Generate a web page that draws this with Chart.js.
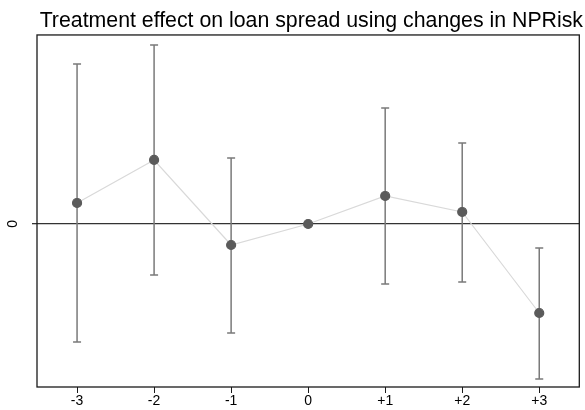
<!DOCTYPE html>
<html>
<head>
<meta charset="utf-8">
<script src="https://cdn.jsdelivr.net/npm/chart.js@4.4.1/dist/chart.umd.min.js"></script>
<style>
  html, body { margin: 0; padding: 0; background: #ffffff; }
  #wrap { width: 585px; height: 410px; }
</style>
</head>
<body>
<div id="wrap"><canvas id="effectChart" width="585" height="410"></canvas></div>
<script>
// event-time periods and their labels
const periods = [-3, -2, -1, 0, 1, 2, 3];
const periodLabels = ['-3', '-2', '-1', '0', '+1', '+2', '+3'];

// point estimates and confidence bounds
const estimates = [0.21, 0.64, -0.21, 0, 0.28, 0.12, -0.89];
const ciUpper = [1.60, 1.79, 0.66, 0, 1.16, 0.81, -0.24];
const ciLower = [-1.18, -0.51, -1.09, 0, -0.60, -0.58, -1.55];

// only the zero line is labelled on the y axis
const yTickValues = [0];
const yTickLabels = ['0'];

const titleText = 'Treatment effect on loan spread using changes in NPRisk';

const points = periods.map((p, i) => ({ x: p, y: estimates[i] }));

// error bars + frame + rotated y label
const extrasPlugin = {
  id: 'extras',
  beforeDatasetsDraw(chart) {
    const { ctx, scales } = chart;
    const xs = scales.x, ys = scales.y;
    ctx.save();
    ctx.strokeStyle = '#7a7a7a';
    ctx.lineWidth = 1.5;
    periods.forEach((p, i) => {
      if (ciUpper[i] === ciLower[i]) return;
      const px = xs.getPixelForValue(p);
      const top = ys.getPixelForValue(ciUpper[i]);
      const bot = ys.getPixelForValue(ciLower[i]);
      ctx.beginPath();
      ctx.moveTo(px, top);
      ctx.lineTo(px, bot);
      ctx.moveTo(px - 4, top);
      ctx.lineTo(px + 4, top);
      ctx.moveTo(px - 4, bot);
      ctx.lineTo(px + 4, bot);
      ctx.stroke();
    });
    ctx.restore();
  },
  afterDraw(chart) {
    const { ctx, chartArea, scales } = chart;
    ctx.save();
    ctx.strokeStyle = '#1a1a1a';
    ctx.lineWidth = 1.3;
    ctx.strokeRect(chartArea.left, chartArea.top,
      chartArea.right - chartArea.left, chartArea.bottom - chartArea.top);

    // y tick labels, rotated like the original
    ctx.fillStyle = '#000000';
    ctx.font = '14px "Liberation Sans", Arial, sans-serif';
    ctx.textAlign = 'center';
    ctx.textBaseline = 'middle';
    yTickValues.forEach((v, i) => {
      const py = scales.y.getPixelForValue(v);
      ctx.save();
      ctx.translate(chartArea.left - 24, py);
      ctx.rotate(-Math.PI / 2);
      ctx.fillText(yTickLabels[i], 0, 0);
      ctx.restore();
    });
    ctx.restore();
  }
};

new Chart(document.getElementById('effectChart'), {
  type: 'scatter',
  data: {
    datasets: [{
      data: points,
      showLine: true,
      borderColor: '#d9d9d9',
      borderWidth: 1.2,
      pointBackgroundColor: '#5b5b5b',
      pointBorderColor: '#5b5b5b',
      pointRadius: 4.5,
      pointHoverRadius: 4.5
    }]
  },
  options: {
    responsive: false,
    animation: false,
    layout: { padding: { left: 0, right: 2, top: 0, bottom: 0 } },
    plugins: {
      legend: { display: false },
      tooltip: { enabled: false },
      title: {
        display: true,
        text: titleText,
        align: 'end',
        color: '#000000',
        font: { family: '"Liberation Sans", Arial, sans-serif', size: 21.3, weight: 'normal', lineHeight: 1.2 },
        padding: { top: 8, bottom: 1.4 }
      }
    },
    scales: {
      x: {
        type: 'linear',
        min: -3.52,
        max: 3.52,
        afterBuildTicks(scale) {
          scale.ticks = periods.map(v => ({ value: v }));
        },
        afterFit(scale) { scale.height = 23; },
        border: { display: false },
        grid: {
          drawOnChartArea: false,
          drawTicks: true,
          tickLength: 6,
          color: '#1a1a1a',
          lineWidth: 1
        },
        ticks: {
          color: '#000000',
          padding: 0,
          maxRotation: 0,
          font: { family: '"Liberation Sans", Arial, sans-serif', size: 14 },
          callback(value) {
            const idx = periods.indexOf(value);
            return idx >= 0 ? periodLabels[idx] : '';
          }
        }
      },
      y: {
        min: -1.63,
        max: 1.89,
        afterBuildTicks(scale) {
          scale.ticks = yTickValues.map(v => ({ value: v }));
        },
        afterFit(scale) { scale.width = 37; },
        border: { display: false },
        grid: {
          drawOnChartArea: true,
          drawTicks: true,
          tickLength: 5,
          color: '#333333',
          lineWidth: 1.3
        },
        ticks: { display: false }
      }
    }
  },
  plugins: [extrasPlugin]
});
</script>
</body>
</html>
